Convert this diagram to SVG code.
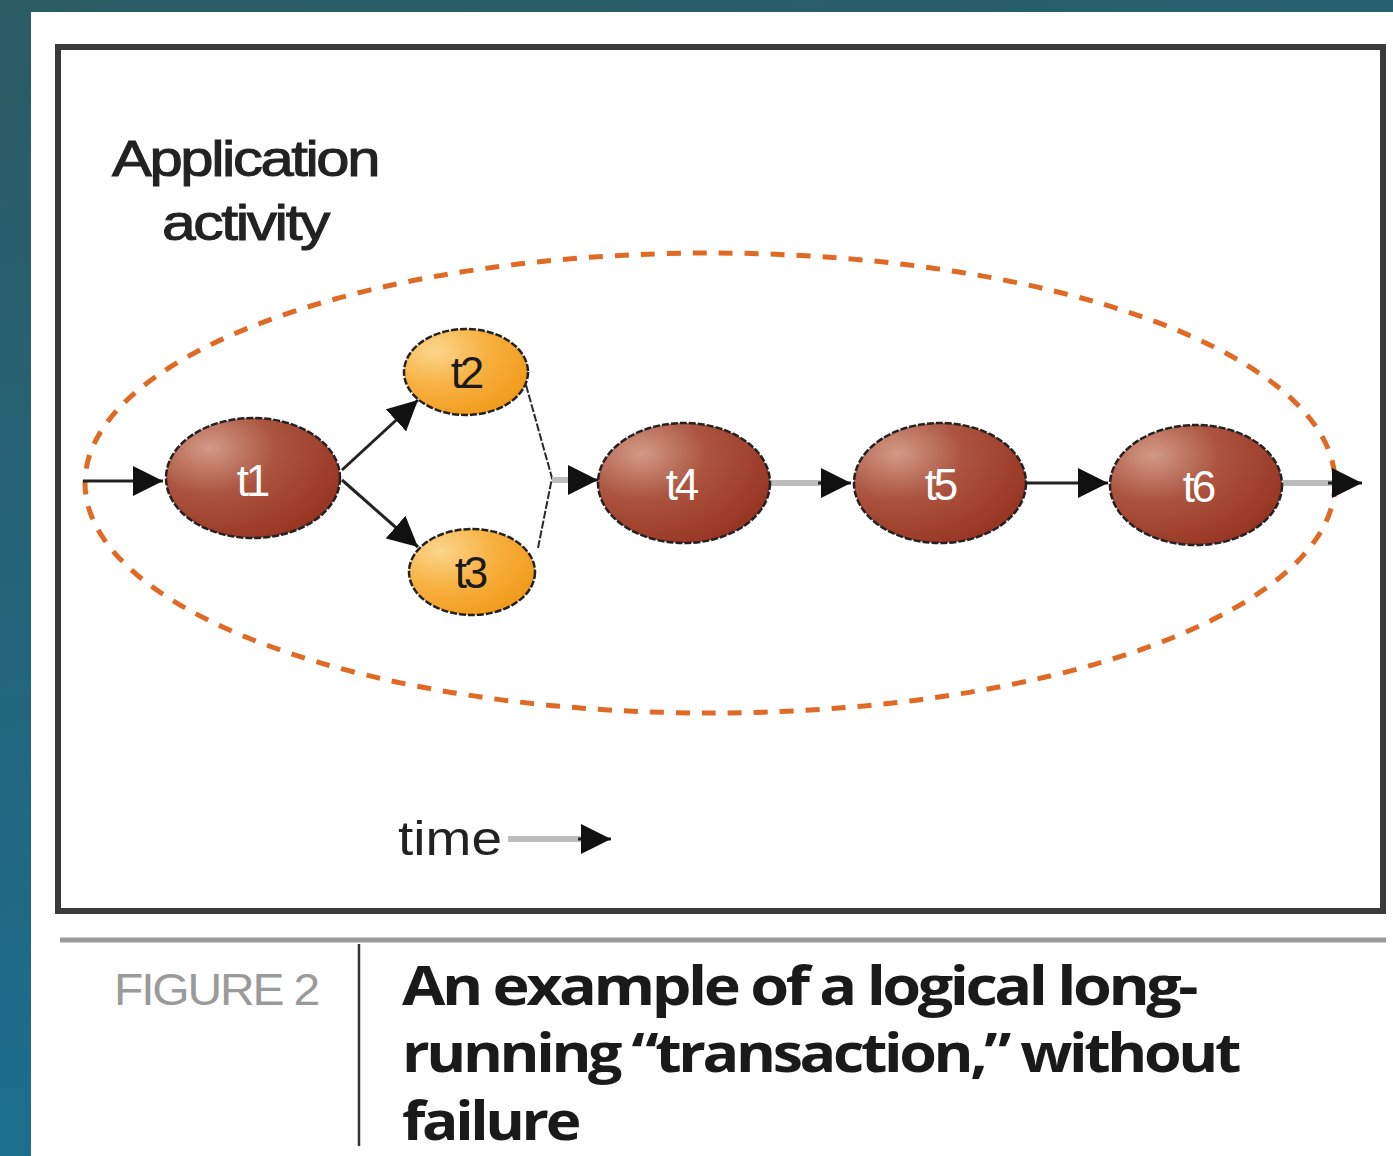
<svg xmlns="http://www.w3.org/2000/svg" width="1393" height="1156" viewBox="0 0 1393 1156">
  <defs>
    <linearGradient id="bg" x1="0" y1="0" x2="0.3" y2="1">
      <stop offset="0" stop-color="#2c5b63"/>
      <stop offset="1" stop-color="#1b6f92"/>
    </linearGradient>
    <radialGradient id="brown" cx="0.25" cy="0.25" r="0.85">
      <stop offset="0" stop-color="#d29a86"/>
      <stop offset="0.45" stop-color="#ab5440"/>
      <stop offset="1" stop-color="#973422"/>
    </radialGradient>
    <radialGradient id="orange" cx="0.25" cy="0.25" r="0.85">
      <stop offset="0" stop-color="#fcd58e"/>
      <stop offset="0.5" stop-color="#f7b140"/>
      <stop offset="1" stop-color="#f19a1a"/>
    </radialGradient>
    <marker id="head" viewBox="0 0 10 10" refX="10" refY="5" markerWidth="30" markerHeight="30" markerUnits="userSpaceOnUse" orient="auto">
      <path d="M0,0 L10,5 L0,10 Z" fill="#111"/>
    </marker>
  </defs>
  <style>
    .node-brown { fill: url(#brown); stroke: #222; stroke-width: 2.5; stroke-dasharray: 7 2; }
    .node-orange { fill: url(#orange); stroke: #222; stroke-width: 2.5; stroke-dasharray: 7 2; }
    .lbl { font-family: "Liberation Sans", Arial, sans-serif; font-size: 44px; text-anchor: middle; letter-spacing: -3px; }
    .lbl-w { fill: #fff; }
    .lbl-b { fill: #1a1a1a; }
    .edge { stroke: #222; stroke-width: 3; fill: none; }
    .edge-gray { stroke: #bdbdbd; stroke-width: 6; fill: none; }
    .thin { stroke: #2a2a2a; stroke-width: 2; stroke-dasharray: 8 2; fill: none; }
    .title { font-family: "Liberation Sans", Arial, sans-serif; font-size: 50px; fill: #222; stroke: #222; stroke-width: 1; letter-spacing: -2px; }
    .cap { font-family: "Open Sans", "Liberation Sans", sans-serif; font-weight: bold; font-size: 54px; fill: #1a1a1a; letter-spacing: -3px; }
  </style>

  <!-- backdrop -->
  <rect x="0" y="0" width="1393" height="1156" fill="url(#bg)"/>
  <rect x="31" y="12" width="1362" height="1144" fill="#ffffff"/>

  <!-- figure frame -->
  <rect x="58" y="47" width="1325" height="864" fill="none" stroke="#3a3a3a" stroke-width="6"/>

  <!-- title -->
  <text class="title" x="112" y="176" textLength="266" lengthAdjust="spacingAndGlyphs">Application</text>
  <text class="title" x="162" y="240" textLength="166" lengthAdjust="spacingAndGlyphs">activity</text>

  <!-- activity boundary -->
  <ellipse cx="710" cy="483" rx="625" ry="230" fill="none" stroke="#e06a25" stroke-width="5" stroke-dasharray="14 12"/>

  <!-- connectors -->
  <g id="connectors">
    <line class="edge" x1="83" y1="481" x2="163" y2="481" marker-end="url(#head)"/>
    <line class="edge" x1="342" y1="470" x2="418" y2="400" marker-end="url(#head)"/>
    <line class="edge" x1="342" y1="480" x2="418" y2="547" marker-end="url(#head)"/>
    <path class="thin" d="M526,385 L552,478 L538,548"/>
    <line class="edge-gray" x1="552" y1="480" x2="572" y2="480"/>
    <line class="edge" x1="572" y1="480" x2="598" y2="480" marker-end="url(#head)"/>
    <line class="edge-gray" x1="771" y1="483" x2="822" y2="483"/>
    <line class="edge" x1="818" y1="483" x2="851" y2="483" marker-end="url(#head)"/>
    <line class="edge" x1="1027" y1="483" x2="1108" y2="483" marker-end="url(#head)"/>
    <line class="edge-gray" x1="1283" y1="483" x2="1332" y2="483"/>
    <line class="edge" x1="1328" y1="483" x2="1362" y2="483" marker-end="url(#head)"/>
  </g>

  <!-- tasks -->
  <g id="t1">
    <ellipse class="node-brown" cx="253" cy="478" rx="87" ry="60"/>
    <text class="lbl lbl-w" x="252" y="496">t1</text>
  </g>
  <g id="t2">
    <ellipse class="node-orange" cx="466" cy="372" rx="62" ry="43"/>
    <text class="lbl lbl-b" x="466" y="388">t2</text>
  </g>
  <g id="t3">
    <ellipse class="node-orange" cx="472" cy="572" rx="63" ry="43"/>
    <text class="lbl lbl-b" x="470" y="588">t3</text>
  </g>
  <g id="t4">
    <ellipse class="node-brown" cx="684" cy="483" rx="86" ry="60"/>
    <text class="lbl lbl-w" x="681" y="500">t4</text>
  </g>
  <g id="t5">
    <ellipse class="node-brown" cx="940" cy="483" rx="86" ry="60"/>
    <text class="lbl lbl-w" x="940" y="500">t5</text>
  </g>
  <g id="t6">
    <ellipse class="node-brown" cx="1196" cy="485" rx="86" ry="60"/>
    <text class="lbl lbl-w" x="1198" y="502">t6</text>
  </g>

  <!-- time axis -->
  <g id="time">
    <text x="398" y="855" font-family="Liberation Sans, Arial, sans-serif" font-size="48" fill="#222" textLength="104" lengthAdjust="spacingAndGlyphs">time</text>
    <line class="edge-gray" x1="508" y1="839" x2="582" y2="839"/>
    <line class="edge" x1="578" y1="839" x2="611" y2="839" marker-end="url(#head)"/>
  </g>

  <!-- caption -->
  <line x1="60" y1="940" x2="1386" y2="940" stroke="#9a9a9a" stroke-width="5"/>
  <line x1="359" y1="944" x2="359" y2="1146" stroke="#333" stroke-width="2.5"/>
  <text x="114" y="1005" font-family="Liberation Sans Narrow, Liberation Sans, sans-serif" font-size="44" fill="#9a9a9a" letter-spacing="-2" textLength="204" lengthAdjust="spacingAndGlyphs">FIGURE 2</text>
  <text class="cap" x="402" y="1005" textLength="793" lengthAdjust="spacingAndGlyphs">An example of a logical long-</text>
  <text class="cap" x="402" y="1072" textLength="836" lengthAdjust="spacingAndGlyphs">running “transaction,” without</text>
  <text class="cap" x="402" y="1140" textLength="176" lengthAdjust="spacingAndGlyphs">failure</text>
</svg>
